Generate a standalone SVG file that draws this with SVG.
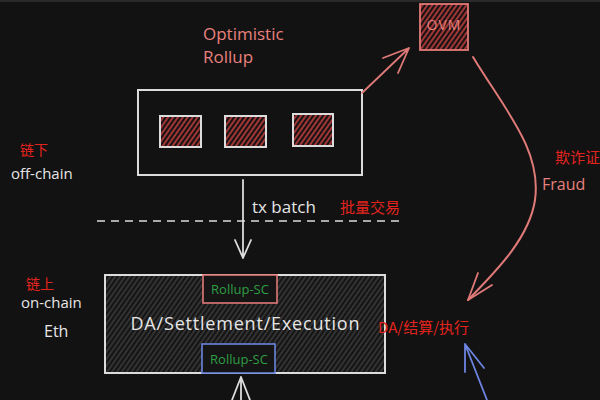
<svg xmlns="http://www.w3.org/2000/svg" width="600" height="400" viewBox="0 0 600 400">
<defs>
<pattern id="redHatch" patternUnits="userSpaceOnUse" width="4" height="4" patternTransform="rotate(35)">
<rect width="4" height="4" fill="#1a1212"/>
<line x1="1" y1="0" x2="1" y2="4" stroke="#b53c3c" stroke-width="1.7"/>
</pattern>
<pattern id="grayHatch" patternUnits="userSpaceOnUse" width="4" height="4" patternTransform="rotate(35)">
<rect width="4" height="4" fill="#151515"/>
<line x1="1" y1="0" x2="1" y2="4" stroke="#4e4e4e" stroke-width="1"/>
</pattern>
<style>
.lat{font-family:"Open Sans","Liberation Sans",sans-serif;}
.cjk{font-family:"Noto Sans CJK SC",sans-serif;fill:#e3241e;}
.pink{fill:#e8817d;}
.white{fill:#e6e6e6;}
.green{fill:#2f9e44;}
.box{stroke:#dcdcdc;stroke-width:2;}
.conn{fill:none;stroke-linecap:round;stroke-linejoin:round;}
</style>
</defs>
<rect width="600" height="400" fill="#121212"/>
<rect width="600" height="2" fill="#2a2a2a"/>

<g id="label-optimistic">
<text class="lat pink" x="203" y="40" font-size="17">Optimistic</text>
<text class="lat pink" x="203" y="63" font-size="17">Rollup</text>
</g>

<g id="ovm">
<rect x="420" y="4" width="48" height="46" fill="url(#redHatch)" stroke="#e07a78" stroke-width="1.8"/>
<text class="lat pink" x="444" y="30" font-size="14" text-anchor="middle" letter-spacing="1">OVM</text>
</g>

<g id="rollup-box">
<rect x="138" y="90" width="224" height="85" fill="#121212" class="box"/>
<rect x="160" y="116" width="41" height="31" fill="url(#redHatch)" class="box"/>
<rect x="225" y="116" width="41" height="31" fill="url(#redHatch)" class="box"/>
<rect x="293" y="114" width="40" height="32" fill="url(#redHatch)" class="box"/>
</g>

<g id="label-offchain">
<text class="cjk" x="20" y="155" font-size="14">链下</text>
<text class="lat white" x="11" y="179" font-size="15">off-chain</text>
</g>

<g id="label-txbatch">
<text class="lat white" x="252" y="213" font-size="17">tx batch</text>
<text class="cjk" x="340" y="213" font-size="15">批量交易</text>
</g>

<g id="label-onchain">
<text class="cjk" x="26" y="289" font-size="14">链上</text>
<text class="lat white" x="21" y="308" font-size="15">on-chain</text>
<text class="lat white" x="44" y="337" font-size="16">Eth</text>
</g>

<g id="eth-box">
<rect x="105" y="275" width="280" height="98" fill="url(#grayHatch)" class="box"/>
<text class="lat white" x="245" y="330" font-size="18" text-anchor="middle" textLength="229">DA/Settlement/Execution</text>
</g>

<g id="rollup-sc-top">
<rect x="203" y="275" width="74" height="28" fill="#151515" stroke="#e07a78" stroke-width="1.6"/>
<text class="lat green" x="240" y="294" font-size="13" text-anchor="middle">Rollup-SC</text>
</g>

<g id="rollup-sc-bottom">
<rect x="202" y="344" width="73" height="29" fill="#151515" stroke="#6b84e0" stroke-width="1.6"/>
<text class="lat green" x="239" y="364" font-size="13" text-anchor="middle">Rollup-SC</text>
</g>

<g id="label-da">
<text class="cjk" x="378" y="333" font-size="15">DA/结算/执行</text>
</g>

<g id="label-fraud">
<text class="cjk" x="555" y="163" font-size="15">欺诈证</text>
<text class="lat pink" x="542" y="190" font-size="16">Fraud</text>
</g>

<g id="connectors">
<path class="conn" d="M362,93 L409,48 M383,58 L409,48 L398,73" stroke="#e07a78" stroke-width="1.8"/>
<path class="conn" d="M473,57 C505,110 542,150 535,200 C529,240 492,275 468,300" stroke="#e07a78" stroke-width="2"/>
<path class="conn" d="M478,273 L468,300 L492,285" stroke="#e07a78" stroke-width="1.8"/>
<path class="conn" d="M243,180 L243,258 M235,240 L243,258 L251,240" stroke="#dcdcdc" stroke-width="1.8"/>
<line x1="97" y1="221" x2="405" y2="221" stroke="#dcdcdc" stroke-width="1.6" stroke-dasharray="8 6"/>
<path class="conn" d="M241,377 L241,400 M232,400 L241,377 L250,400" stroke="#dcdcdc" stroke-width="1.8"/>
<path class="conn" d="M465,344 L487,400 M465,372 L465,344 L484,368" stroke="#6b84e0" stroke-width="1.8"/>
</g>
</svg>
